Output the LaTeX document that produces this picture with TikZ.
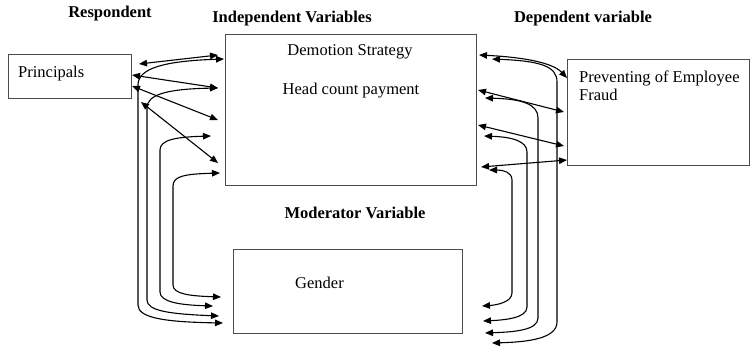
\documentclass[tikz,border=0pt]{standalone}
\usepackage{fontspec}
\setmainfont{Liberation Serif}
\usetikzlibrary{arrows.meta}
\begin{document}
\begin{tikzpicture}[x=1pt,y=-1pt,
  box/.style={draw=black!70,line width=1.1pt,inner sep=0pt,anchor=north west},
  txt/.style={inner sep=0pt,font=\fontsize{16.5}{18}\selectfont},
  ttl/.style={inner sep=0pt,font=\fontsize{16.5}{18}\selectfont\bfseries,anchor=base},
  conn/.style={line width=1.1pt,{Triangle[length=8pt,width=6.5pt]}-{Triangle[length=8pt,width=6.5pt]}}]
\useasboundingbox (0,0) rectangle (750,348);
% boxes
\node[box,minimum width=123pt,minimum height=44pt] (prin) at (8,54) {};
\node[box,minimum width=251pt,minimum height=151pt] (ind) at (225,34) {};
\node[box,minimum width=182pt,minimum height=106pt] (dep) at (567,59) {};
\node[box,minimum width=229pt,minimum height=84pt] (gen) at (233,249) {};
% titles
\node[ttl] (t1) at (110,17) {Respondent};
\node[ttl] (t2) at (292,23) {Independent Variables};
\node[ttl] (t3) at (583,23) {Dependent variable};
\node[ttl] (t4) at (355,218) {Moderator Variable};
% texts
\node[txt,anchor=base west] (x1) at (18,77) {Principals};
\node[txt,anchor=base] (x2) at (350,55) {Demotion Strategy};
\node[txt,anchor=base] (x3) at (351,94) {Head count payment};
\node[txt,anchor=base west] (x4) at (579,82) {Preventing of Employee};
\node[txt,anchor=base west] (x5) at (579,100) {Fraud};
\node[txt,anchor=base west] (x6) at (295,288) {Gender};
% endpoints left
\coordinate (pa) at (139,64);
\coordinate (pb) at (132,75);
\coordinate (pc) at (132,86);
\coordinate (pd) at (141,102);
\coordinate (ia) at (218,55);
\coordinate (ib) at (224,59);
\coordinate (ic) at (218,88);
\coordinate (id) at (218,120);
\coordinate (ie) at (211,136);
\coordinate (if) at (218,163);
\coordinate (ig) at (220,173);
\coordinate (ga) at (221,297);
\coordinate (gb) at (213,306);
\coordinate (gc) at (219,316);
\coordinate (gd) at (223,323);
% endpoints right
\coordinate (ra) at (479,55);
\coordinate (rb) at (492,59);
\coordinate (rc) at (478,90);
\coordinate (rd) at (485,98);
\coordinate (re) at (478,125);
\coordinate (rf) at (484,136);
\coordinate (rg) at (481,167);
\coordinate (rh) at (489,170);
\coordinate (da) at (567,78);
\coordinate (db) at (564,112);
\coordinate (dc) at (564,146);
\coordinate (dd) at (567,160);
\coordinate (sa) at (482,306);
\coordinate (sb) at (483,321);
\coordinate (sc) at (485,333);
\coordinate (sd) at (492,343);
% left straight connectors
\draw[conn] (pa) -- (ia);
\draw[conn] (pb) -- (ic);
\draw[conn] (pc) -- (id);
\draw[conn] (pd) -- (if);
% left long curves
\draw[conn] (ib) .. controls (165,61) and (138,68) .. (138,85) -- (138,305) .. controls (138,318) and (165,322) .. (gd);
\draw[conn] (ic) .. controls (165,89) and (147,95) .. (147,108) -- (147,300) .. controls (147,311) and (170,314) .. (gc);
\draw[conn] (ie) .. controls (175,137) and (160,140) .. (160,150) -- (160,292) .. controls (160,302) and (180,305) .. (gb);
\draw[conn] (ig) .. controls (185,174) and (173,176) .. (173,186) -- (173,285) .. controls (173,294) and (190,296) .. (ga);
% right straight/curved to dependent
\draw[conn] (ra) .. controls (520,57) and (552,62) .. (da);
\draw[conn] (rc) -- (db);
\draw[conn] (re) -- (dc);
\draw[conn] (rg) -- (dd);
% right long curves
\draw[conn] (rb) .. controls (540,61) and (557,66) .. (557,82) -- (557,322) .. controls (557,338) and (530,342) .. (sd);
\draw[conn] (rd) .. controls (522,99) and (538,104) .. (538,118) -- (538,318) .. controls (538,330) and (515,332) .. (sc);
\draw[conn] (rf) .. controls (512,137) and (527,141) .. (527,152) -- (527,307) .. controls (527,318) and (505,320) .. (sb);
\draw[conn] (rh) .. controls (503,170) and (512,172) .. (512,180) -- (512,293) .. controls (512,302) and (497,305) .. (sa);
\end{tikzpicture}
\end{document}
